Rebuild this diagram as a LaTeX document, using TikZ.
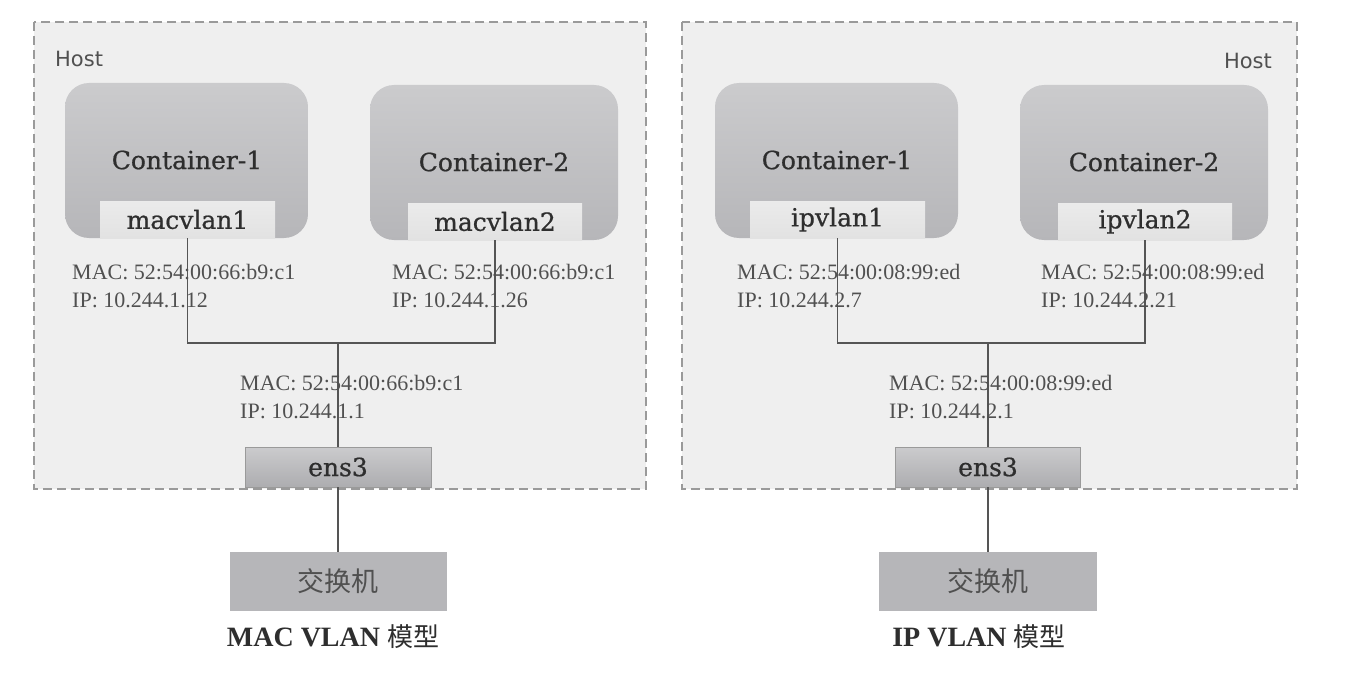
\documentclass[tikz,border=0pt]{standalone}
\usepackage{fontspec}
\setmainfont{Liberation Serif}
\newfontfamily\boxfont[FakeBold=0.7]{DejaVu Serif}
\newfontfamily\hostfont{DejaVu Sans}
\newfontfamily\cjk{Noto Sans CJK SC}
\definecolor{hostbg}{HTML}{EFEFEF}
\definecolor{hostln}{HTML}{9A9A9A}
\definecolor{ctop}{HTML}{CBCBCD}
\definecolor{cbot}{HTML}{B6B6B9}
\definecolor{ifbg}{HTML}{E2E2E2}
\definecolor{ltxt}{HTML}{505050}
\definecolor{dtxt}{HTML}{2E2E2E}
\definecolor{wire}{HTML}{555555}
\tikzset{
  hostbox/.style={draw=hostln, fill=hostbg, line width=1.4pt, dash pattern=on 9pt off 5pt},
  hostlbl/.style={font=\hostfont\fontsize{21}{24}\selectfont, text=ltxt, inner sep=0pt},
  cont/.style={top color=ctop, bottom color=cbot, rounded corners=24pt, inner sep=0pt},
  ctext/.style={font=\boxfont\fontsize{25}{30}\selectfont, text=dtxt, inner sep=0pt},
  iface/.style={top color=ifbg!70!white, bottom color=ifbg, inner sep=0pt, minimum width=175pt, minimum height=37pt,
    font=\boxfont\fontsize{25}{30}\selectfont, text=dtxt},
  ens/.style={top color=ctop, bottom color=cbot!95!black, draw=hostln, line width=0.6pt, inner sep=0pt,
    minimum width=186pt, minimum height=40pt, font=\boxfont\fontsize{25}{30}\selectfont, text=dtxt},
  switchbox/.style={fill=cbot, inner sep=0pt, minimum width=217pt, minimum height=59pt,
    font=\cjk\fontsize{27}{30}\selectfont, text=ltxt},
  addr/.style={align=left, anchor=north west, inner sep=0pt,
    font=\fontsize{22}{28}\selectfont, text=ltxt},
  caption/.style={inner sep=0pt, font=\bfseries\fontsize{28}{32}\selectfont, text=dtxt},
  wireln/.style={draw=wire, line width=1.5pt},
}
\begin{document}
\begin{tikzpicture}[x=1pt,y=-1pt]
\useasboundingbox (0,0) rectangle (1370,674);
\fill[white] (0,0) rectangle (1370,674);

% ---------- Left: MAC VLAN ----------
\draw[hostbox] (34,22) rectangle (646,489);
\node[hostlbl, anchor=west] (hostL) at (55,59) {Host};
\node[cont, minimum width=243pt, minimum height=155pt] (cL1) at (186.5,160.5) {};
\node[ctext] (cL1t) at (187,160) {Container-1};
\node[cont, minimum width=248pt, minimum height=155pt] (cL2) at (494,162.5) {};
\node[ctext] (cL2t) at (494,162) {Container-2};
\node[iface] (ifL1) at (187.5,219.5) {macvlan1};
\node[iface, minimum width=174pt] (ifL2) at (495,221.5) {macvlan2};
\node[ens] (ensL) at (338,467) {ens3};
\node[switchbox] (swL) at (338,581.5) {交换机};
\coordinate (jL) at (338,343);
\draw[wireln] (ifL1.south) |- (jL) -| (ifL2.south);
\draw[wireln] (jL) -- (ensL.north);
\draw[wireln] (ensL.south) -- (swL.north);
\node[addr] (aL1) at (72,264) {MAC: 52:54:00:66:b9:c1\\IP: 10.244.1.12};
\node[addr] (aL2) at (392,264) {MAC: 52:54:00:66:b9:c1\\IP: 10.244.1.26};
\node[addr] (aL3) at (240,375) {MAC: 52:54:00:66:b9:c1\\IP: 10.244.1.1};
\node[caption] (capL) at (333,637) {MAC VLAN {\cjk\mdseries\fontsize{26}{30}\selectfont 模型}};

% ---------- Right: IP VLAN ----------
\draw[hostbox] (682,22) rectangle (1297,489);
\node[hostlbl, anchor=east] (hostR) at (1272,61) {Host};
\node[cont, minimum width=243pt, minimum height=155pt] (cR1) at (836.5,160.5) {};
\node[ctext] (cR1t) at (837,160) {Container-1};
\node[cont, minimum width=248pt, minimum height=155pt] (cR2) at (1144,162.5) {};
\node[ctext] (cR2t) at (1144,162) {Container-2};
\node[iface] (ifR1) at (837.5,219.5) {ipvlan1};
\node[iface, minimum width=174pt] (ifR2) at (1145,221.5) {ipvlan2};
\node[ens, minimum width=185pt] (ensR) at (988,467) {ens3};
\node[switchbox, minimum width=218pt] (swR) at (988,581.5) {交换机};
\coordinate (jR) at (988,343);
\draw[wireln] (ifR1.south) |- (jR) -| (ifR2.south);
\draw[wireln] (jR) -- (ensR.north);
\draw[wireln] (ensR.south) -- (swR.north);
\node[addr] (aR1) at (737,264) {MAC: 52:54:00:08:99:ed\\IP: 10.244.2.7};
\node[addr] (aR2) at (1041,264) {MAC: 52:54:00:08:99:ed\\IP: 10.244.2.21};
\node[addr] (aR3) at (889,375) {MAC: 52:54:00:08:99:ed\\IP: 10.244.2.1};
\node[caption] (capR) at (979,637) {IP VLAN {\cjk\mdseries\fontsize{26}{30}\selectfont 模型}};
\end{tikzpicture}
\end{document}
